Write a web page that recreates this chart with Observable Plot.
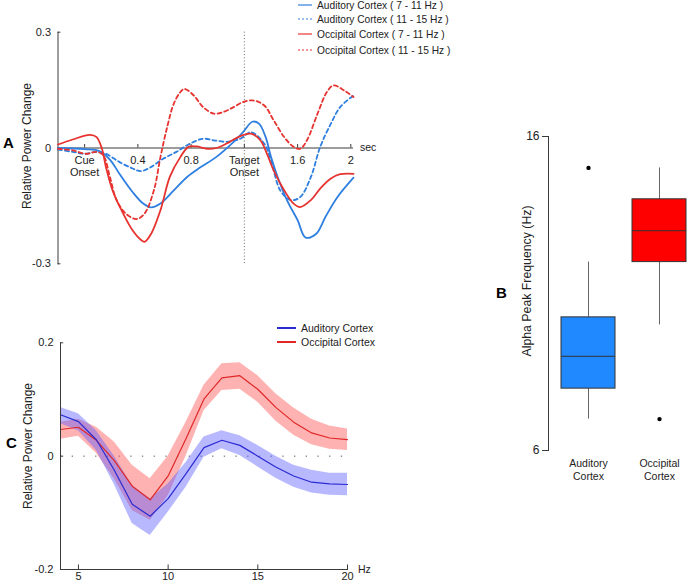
<!DOCTYPE html>
<html><head><meta charset="utf-8">
<script src="https://cdn.jsdelivr.net/npm/d3@7"></script>
<script src="https://cdn.jsdelivr.net/npm/@observablehq/plot@0.6"></script>
<style>
body{margin:0;background:#fff;font-family:"Liberation Sans",Arial,Helvetica,sans-serif;}
#wrap{position:relative;width:687px;height:583px;overflow:hidden;background:#fff;}
.panel{position:absolute;}
#overlay{position:absolute;left:0;top:0;pointer-events:none;}
</style></head><body><div id="wrap">
<div id="pA" class="panel" style="left:0;top:0"></div>
<div id="pB" class="panel" style="left:480px;top:100px"></div>
<div id="pC" class="panel" style="left:0;top:300px"></div>
<svg id="overlay" width="687" height="583"></svg>
</div>
<script>
const FONT = '"Liberation Sans", Arial, Helvetica, sans-serif';

// ---------- Panel A data ----------
const seriesNamesA = ["Auditory Cortex ( 7 - 11 Hz )","Auditory Cortex ( 11 - 15 Hz )","Occipital Cortex ( 7 - 11 Hz )","Occipital Cortex ( 11 - 15 Hz )"];
const tAudLow = [-0.2,0,0.11,0.19,0.26,0.36,0.44,0.5,0.57,0.67,0.77,0.87,0.99,1.12,1.19,1.26,1.31,1.36,1.40,1.45,1.52,1.6,1.66,1.74,1.81,1.9,2.02];
const vAudLow = [0,-0.003,-0.008,-0.03,-0.066,-0.114,-0.144,-0.154,-0.144,-0.11,-0.075,-0.05,-0.023,0.016,0.041,0.068,0.063,0.028,-0.023,-0.075,-0.135,-0.187,-0.232,-0.222,-0.178,-0.127,-0.077];
const tAudHigh = [-0.2,-0.09,0,0.09,0.16,0.26,0.36,0.42,0.49,0.59,0.69,0.79,0.89,0.97,1.07,1.17,1.25,1.35,1.4,1.47,1.55,1.62,1.7,1.77,1.85,1.92,2.02];
const vAudHigh = [-0.004,-0.01,-0.015,-0.01,-0.015,-0.036,-0.053,-0.06,-0.051,-0.028,-0.01,0.011,0.024,0.02,0.016,0.024,0.041,0.011,-0.032,-0.11,-0.135,-0.127,-0.075,0.003,0.063,0.106,0.136];
const tOccLow = [-0.2,-0.09,0.04,0.09,0.13,0.16,0.21,0.29,0.36,0.42,0.45,0.5,0.57,0.64,0.72,0.78,0.84,0.92,0.99,1.09,1.17,1.25,1.32,1.37,1.42,1.5,1.57,1.62,1.7,1.77,1.85,1.92,2.02];
const vOccLow = [0.009,0.022,0.034,0.028,-0.002,-0.049,-0.11,-0.17,-0.213,-0.237,-0.243,-0.222,-0.161,-0.075,-0.023,0.003,0.004,-0.002,0,0.016,0.031,0.037,0.02,-0.015,-0.058,-0.11,-0.144,-0.153,-0.135,-0.105,-0.079,-0.068,-0.067];
const tOccHigh = [-0.2,-0.09,0.01,0.09,0.14,0.19,0.24,0.31,0.39,0.45,0.52,0.57,0.62,0.67,0.72,0.75,0.82,0.89,0.97,1.04,1.12,1.19,1.27,1.35,1.42,1.5,1.57,1.62,1.67,1.75,1.82,1.87,1.95,2.02];
const vOccHigh = [-0.002,-0.006,-0.015,-0.01,-0.019,-0.075,-0.135,-0.17,-0.184,-0.17,-0.11,-0.023,0.054,0.115,0.145,0.153,0.136,0.106,0.089,0.093,0.106,0.119,0.123,0.11,0.072,0.028,0.003,-0.002,0.02,0.089,0.145,0.162,0.149,0.132];
const xTicksA = [0,0.4,0.8,1.2,1.6,2];
const xTickLabelsA = ["Cue\nOnset","0.4","0.8","Target\nOnset","1.6","2"];
const yTicksA = [0.3,0,-0.3];
const yTickLabelsA = ["0.3","0","-0.3"];
const targetOnset = 1.2;

// ---------- Panel B data ----------
const groupsB = ["Auditory Cortex","Occipital Cortex"];
const groupLabelsB = ["Auditory\nCortex","Occipital\nCortex"];
const whiskerLoB = [7.0, 10.0];
const q1B = [7.97, 12.0];
const medianB = [9.0, 13.0];
const q3B = [10.24, 14.0];
const whiskerHiB = [12.0, 15.0];
const outlierGroupB = ["Auditory Cortex","Occipital Cortex"];
const outlierValueB = [15.0, 7.0];
const yTicksB = [6,16];

// ---------- Panel C data ----------
const freqC = [4,5,6,7,8,9,10,11,12,13,14,15,16,17,18,19,20];
const audMeanC = [0.073,0.061,0.029,-0.025,-0.085,-0.106,-0.075,-0.031,0.015,0.028,0.019,0.0,-0.019,-0.035,-0.046,-0.049,-0.05];
const audLoC = [0.057,0.045,0.01,-0.05,-0.119,-0.14,-0.099,-0.055,-0.002,0.013,0.001,-0.019,-0.039,-0.055,-0.065,-0.069,-0.07];
const audHiC = [0.086,0.075,0.045,0.0,-0.052,-0.075,-0.049,-0.011,0.034,0.045,0.036,0.019,0.0,-0.016,-0.025,-0.03,-0.03];
const occMeanC = [0.047,0.051,0.028,-0.008,-0.053,-0.077,-0.035,0.031,0.101,0.138,0.142,0.118,0.086,0.06,0.041,0.032,0.029];
const occLoC = [0.03,0.035,0.005,-0.04,-0.096,-0.113,-0.07,0.0,0.08,0.116,0.118,0.095,0.062,0.037,0.02,0.012,0.01];
const occHiC = [0.06,0.065,0.051,0.025,-0.016,-0.04,0.0,0.06,0.125,0.163,0.165,0.142,0.11,0.085,0.065,0.053,0.048];
const seriesNamesC = ["Auditory Cortex","Occipital Cortex"];
const xTicksC = [5,10,15,20];
const yTicksC = [0.2,0,-0.2];
const yTickLabelsC = ["0.2","0","-0.2"];

// ---------- styles ----------
const BLUE_A = "#2f7fe0", RED_A = "#e6332f";
const BLUE_C = "#2b2bd2", RED_C = "#e02828";
const BLUE_BAND = "#5555ff", RED_BAND = "#ff5555";
const BOX_COLORS = ["#2189ff", "#ff0000"];
const AX = "#3a3a3a";

// ---------- Panel A ----------
const specA = [
  {name: seriesNamesA[0], t: tAudLow, v: vAudLow, color: BLUE_A, dash: null},
  {name: seriesNamesA[1], t: tAudHigh, v: vAudHigh, color: BLUE_A, dash: "4,3"},
  {name: seriesNamesA[2], t: tOccLow, v: vOccLow, color: RED_A, dash: null},
  {name: seriesNamesA[3], t: tOccHigh, v: vOccHigh, color: RED_A, dash: "4,3"}
];
const lineMarksA = specA.map(s => Plot.line(s.t.map((t,i)=>({t, v:s.v[i]})), {
  x:"t", y:"v", stroke:s.color, strokeWidth:1.8, strokeDasharray:s.dash, curve:"catmull-rom"
}));
const plotA = Plot.plot({
  width:380, height:280, marginLeft:57.5, marginRight:27, marginTop:31.7, marginBottom:16.7,
  x:{domain:[-0.2,2.02], axis:null}, y:{domain:[-0.3,0.3]},
  style:{fontFamily:FONT, fontSize:"11px", color:"#222", background:"transparent"},
  marks:[
    Plot.ruleX([targetOnset], {stroke:"#666", strokeDasharray:"1,2.2", strokeWidth:1}),
    Plot.ruleY([0], {stroke:AX, strokeWidth:1}),
    Plot.ruleX(xTicksA, {x:d=>d, y1:0, y2:0.009, stroke:AX}),
    Plot.text(xTicksA, {x:d=>d, y:0, text:(d,i)=>xTickLabelsA[i], dy:7, lineAnchor:"top", fontSize:11, lineHeight:1.1, fill:"#222"}),
    Plot.frame({anchor:"left", stroke:AX}),
    Plot.ruleY(yTicksA, {y:d=>d, x1:-0.2, x2:-0.178, stroke:AX}),
    Plot.axisY({ticks:yTicksA, tickFormat:d=>yTickLabelsA[yTicksA.indexOf(d)], tickSize:0, tickPadding:7, label:null, fontSize:11}),
    ...lineMarksA
  ]
});
document.getElementById("pA").appendChild(plotA);

// ---------- Panel B ----------
const boxB = groupsB.map((g,i)=>({g, lo:whiskerLoB[i], q1:q1B[i], med:medianB[i], q3:q3B[i], hi:whiskerHiB[i], color:BOX_COLORS[i]}));
const outB = outlierGroupB.map((g,i)=>({g, v:outlierValueB[i]}));
const plotB = Plot.plot({
  width:207, height:400, marginLeft:68, marginRight:0, marginTop:36, marginBottom:50,
  x:{type:"band", domain:groupsB, range:[72.5,214.5], paddingInner:0.24, paddingOuter:0.12},
  y:{domain:[6,16]},
  color:{type:"identity"},
  style:{fontFamily:FONT, fontSize:"11px", color:"#222", background:"transparent"},
  marks:[
    Plot.frame({anchor:"left", stroke:AX}),
    Plot.axisY({ticks:yTicksB, tickSize:6, tickPadding:3, label:null, fontSize:12, stroke:AX}),
    Plot.axisX({tickSize:0, tickPadding:7, label:null, fontSize:10.5, lineHeight:1.25, tickFormat:d=>groupLabelsB[groupsB.indexOf(d)]}),
    Plot.ruleX(boxB, {x:"g", y1:"lo", y2:"q1", stroke:"#666"}),
    Plot.ruleX(boxB, {x:"g", y1:"q3", y2:"hi", stroke:"#666"}),
    Plot.barY(boxB, {x:"g", y1:"q1", y2:"q3", fill:"color", stroke:"#333", strokeWidth:1}),
    Plot.tickY(boxB, {x:"g", y:"med", stroke:"#333", strokeWidth:1}),
    Plot.dot(outB, {x:"g", y:"v", r:2.2, fill:"#000", stroke:null})
  ]
});
document.getElementById("pB").appendChild(plotB);

// ---------- Panel C ----------
const dataC = [];
freqC.forEach((f,i)=>{
  dataC.push({series:seriesNamesC[0], f, m:audMeanC[i], lo:audLoC[i], hi:audHiC[i]});
  dataC.push({series:seriesNamesC[1], f, m:occMeanC[i], lo:occLoC[i], hi:occHiC[i]});
});
const audC = dataC.filter(d=>d.series===seriesNamesC[0]);
const occC = dataC.filter(d=>d.series===seriesNamesC[1]);
const plotC = Plot.plot({
  width:380, height:283, marginLeft:60, marginRight:33, marginTop:42.3, marginBottom:14,
  x:{domain:[4,20]}, y:{domain:[-0.2,0.2]},
  style:{fontFamily:FONT, fontSize:"11px", color:"#222", background:"transparent"},
  marks:[
    Plot.ruleY([0], {stroke:"#555", strokeDasharray:"1.3,10.4"}),
    Plot.areaY(occC, {x:"f", y1:"lo", y2:"hi", fill:RED_BAND, fillOpacity:0.45}),
    Plot.areaY(audC, {x:"f", y1:"lo", y2:"hi", fill:BLUE_BAND, fillOpacity:0.42}),
    Plot.line(occC, {x:"f", y:"m", stroke:RED_C, strokeWidth:1.2}),
    Plot.line(audC, {x:"f", y:"m", stroke:BLUE_C, strokeWidth:1.2}),
    Plot.frame({anchor:"left", stroke:AX}),
    Plot.frame({anchor:"bottom", stroke:AX}),
    Plot.ruleY(yTicksC, {y:d=>d, x1:4, x2:4.18, stroke:AX}),
    Plot.ruleX(xTicksC, {x:d=>d, y1:-0.2, y2:-0.192, stroke:AX}),
    Plot.axisY({ticks:yTicksC, tickFormat:d=>yTickLabelsC[yTicksC.indexOf(d)], tickSize:0, tickPadding:7, label:null, fontSize:11}),
    Plot.axisX({ticks:xTicksC, tickSize:0, tickPadding:3, label:null, fontSize:11})
  ]
});
document.getElementById("pC").appendChild(plotC);

// ---------- overlay: legends, labels, panel letters ----------
const ov = d3.select("#overlay").style("font-family", FONT);
// Legend A
const legA = ov.append("g");
const rowsA = [5,19,34,50];
specA.forEach((s,i)=>{
  legA.append("line").attr("x1",298).attr("x2",312).attr("y1",rowsA[i]).attr("y2",rowsA[i])
    .attr("stroke",s.color).attr("stroke-width",1.2).attr("stroke-dasharray",s.dash ? "2,2" : null);
  legA.append("text").attr("x",317).attr("y",rowsA[i]).attr("dy","0.35em")
    .attr("font-size",10.2).attr("fill","#222").text(s.name);
});
// Legend C
const rowsC = [328,342];
const colorsC = [BLUE_C, RED_C];
seriesNamesC.forEach((n,i)=>{
  ov.append("line").attr("x1",277).attr("x2",296).attr("y1",rowsC[i]).attr("y2",rowsC[i])
    .attr("stroke",colorsC[i]).attr("stroke-width",2);
  ov.append("text").attr("x",301).attr("y",rowsC[i]).attr("dy","0.35em")
    .attr("font-size",10.5).attr("fill","#222").text(n);
});
// axis titles
function vlabel(x,y,txt,size){
  ov.append("text").attr("transform",`translate(${x},${y}) rotate(-90)`)
    .attr("text-anchor","middle").attr("dy","0.35em").attr("font-size",size).attr("fill","#222").text(txt);
}
vlabel(27,146,"Relative Power Change",12);
vlabel(28,446,"Relative Power Change",12);
vlabel(527,281,"Alpha Peak Frequency (Hz)",12.3);
ov.append("text").attr("x",360).attr("y",147).attr("dy","0.35em").attr("font-size",10.5).attr("fill","#222").text("sec");
ov.append("text").attr("x",358).attr("y",569).attr("dy","0.35em").attr("font-size",10.5).attr("fill","#222").text("Hz");
// panel letters
[["A",3,148],["B",496,298],["C",6,448]].forEach(([l,x,y])=>{
  ov.append("text").attr("x",x).attr("y",y).attr("font-size",15).attr("font-weight","bold").attr("fill","#000").text(l);
});
</script>
</body></html>
